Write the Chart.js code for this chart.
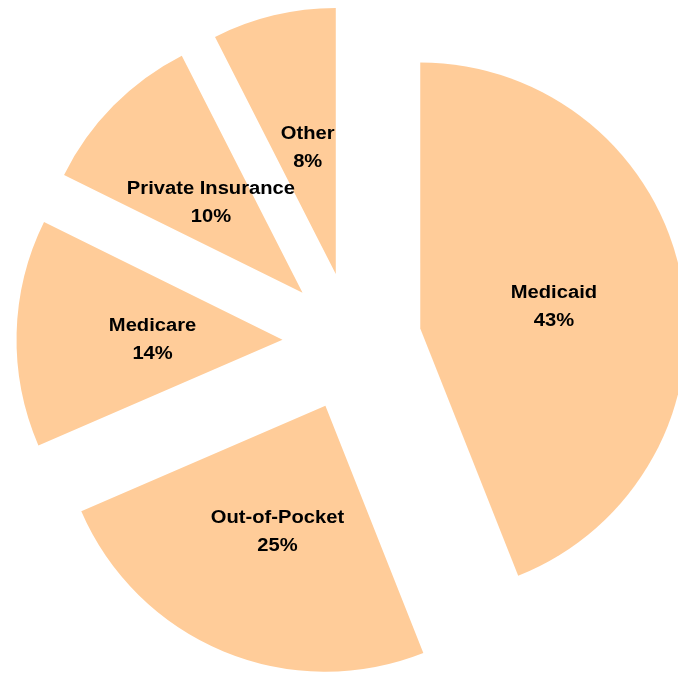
<!DOCTYPE html>
<html>
<head>
<meta charset="utf-8">
<script src="https://cdn.jsdelivr.net/npm/chart.js@4/dist/chart.umd.min.js"></script>
<style>
html,body{margin:0;padding:0;background:#fff;overflow:hidden}
canvas{display:block}
</style>
</head>
<body>
<canvas id="c" width="678" height="673"></canvas>
<script>
const categories = ['Medicaid', 'Out-of-Pocket', 'Medicare', 'Private Insurance', 'Other'];
const shares = [44.0, 24.5, 13.8, 10.2, 7.5];
// labels as printed on the chart
const percentLabels = ['43%', '25%', '14%', '10%', '8%'];

const RADIUS = 266;
const EXPLODE = 69.5;         // distance each slice is pulled out
const OFFSET = EXPLODE * 4;   // Chart.js translates arcs by offset/4
const SLICE_COLOR = '#FFCC99';

// Chart.js enlarges small exploded arcs; undo that so all slices keep one radius
const equalRadiusPlugin = {
  id: 'equalRadius',
  afterDatasetUpdate(chart, args) {
    const meta = args.meta;
    meta.data.forEach(arc => {
      const circ = arc.endAngle - arc.startAngle;
      const fix = 1 - Math.sin(Math.min(Math.PI, circ));
      const ro = (OFFSET / 4) * fix;
      const R = arc.outerRadius;
      arc.outerRadius = R - ro;
      const widen = ro / (2 * Math.PI * R);
      arc.startAngle -= widen;
      arc.endAngle += widen;
    });
  }
};

const labelPlugin = {
  id: 'sliceLabels',
  afterDatasetsDraw(chart) {
    const ctx = chart.ctx;
    const meta = chart.getDatasetMeta(0);
    ctx.save();
    ctx.fillStyle = '#000';
    ctx.font = 'bold 18px "Liberation Sans", Arial, sans-serif';
    ctx.textAlign = 'center';
    ctx.textBaseline = 'middle';
    meta.data.forEach((arc, i) => {
      const mid = (arc.startAngle + arc.endAngle) / 2;
      const d = RADIUS * 0.5 + EXPLODE;
      const x = arc.x + Math.cos(mid) * d + 3;
      const y = arc.y + Math.sin(mid) * d + 3.5;
      const lines = [categories[i], percentLabels[i]];
      const lh = 28;
      lines.forEach((t, k) => {
        ctx.save();
        ctx.translate(x, y + (k - (lines.length - 1) / 2) * lh);
        ctx.scale(1.12, 1);
        ctx.fillText(t, 0, 0);
        ctx.restore();
      });
    });
    ctx.restore();
  }
};

new Chart(document.getElementById('c'), {
  type: 'pie',
  data: {
    labels: categories,
    datasets: [{
      data: shares,
      backgroundColor: SLICE_COLOR,
      borderWidth: 0,
      offset: OFFSET,
      radius: RADIUS
    }]
  },
  options: {
    responsive: false,
    animation: false,
    radius: RADIUS,
    layout: { padding: { left: 26, top: 10, right: 0, bottom: 0 } },
    plugins: {
      legend: { display: false },
      tooltip: { enabled: false }
    }
  },
  plugins: [equalRadiusPlugin, labelPlugin]
});
</script>
</body>
</html>
